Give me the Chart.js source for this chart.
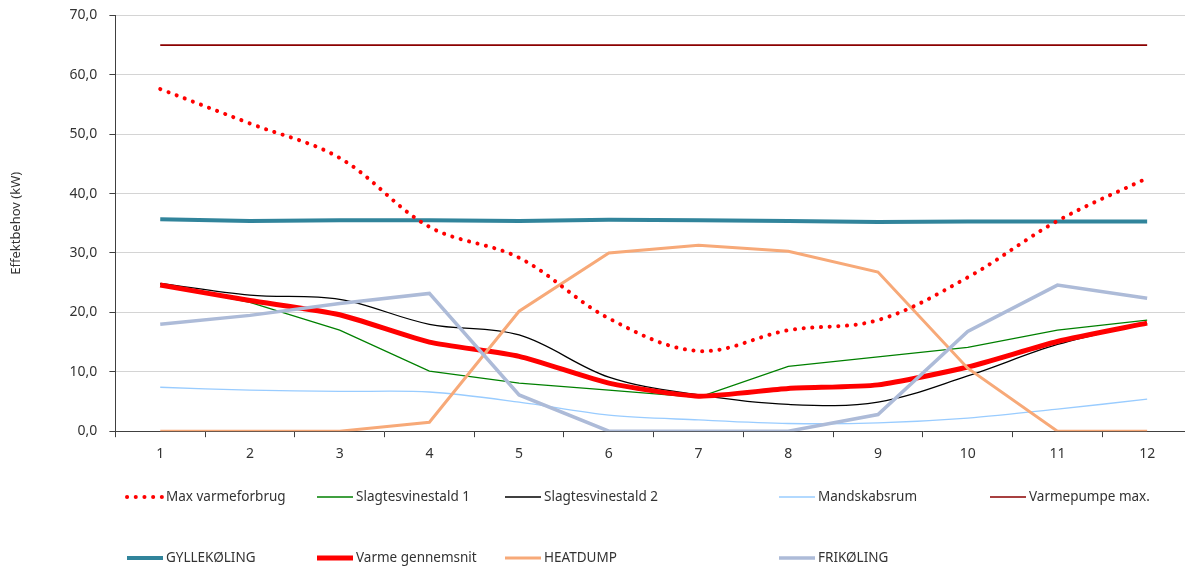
<!DOCTYPE html>
<html>
<head>
<meta charset="utf-8">
<script src="https://cdn.jsdelivr.net/npm/chart.js@4.4.1/dist/chart.umd.min.js"></script>
<style>
  html, body { margin: 0; padding: 0; background: #fff; overflow: hidden; }
  #wrap { width: 1192px; height: 575px; margin-top: -5px; }
</style>
</head>
<body>
<div id="wrap"><canvas id="chart"></canvas></div>
<script>
// Months / categories
const months = ['1', '2', '3', '4', '5', '6', '7', '8', '9', '10', '11', '12'];

// Series values (kW)
const maxVarmeforbrug   = [57.6, 51.8, 46.0, 34.4, 29.2, 19.0, 13.5, 17.0, 18.7, 25.9, 35.4, 42.6];
const slagtesvinestald1 = [24.7, 21.7, 17.0, 10.1, 8.1, 6.9, 5.7, 10.9, 12.5, 14.1, 17.0, 18.7];
const slagtesvinestald2 = [24.9, 22.9, 22.2, 18.0, 16.2, 9.1, 6.1, 4.5, 4.9, 9.3, 14.6, 18.2];
const mandskabsrum      = [7.4, 6.9, 6.7, 6.6, 4.9, 2.7, 1.9, 1.3, 1.4, 2.2, 3.7, 5.4];
const varmepumpeMax     = [65, 65, 65, 65, 65, 65, 65, 65, 65, 65, 65, 65];
const gyllekoling       = [35.7, 35.4, 35.5, 35.5, 35.4, 35.6, 35.5, 35.4, 35.2, 35.3, 35.3, 35.3];
const varmeGennemsnit   = [24.6, 22.0, 19.6, 15.0, 12.6, 8.1, 5.9, 7.2, 7.8, 10.8, 15.1, 18.2];
const heatdump          = [0, 0, 0, 1.5, 20.2, 30.0, 31.3, 30.3, 26.8, 10.6, 0, 0];
const frikoling         = [18.0, 19.5, 21.5, 23.2, 6.1, 0, 0, 0, 2.8, 16.8, 24.6, 22.4];

// Y axis ticks
const yMin = 0, yMax = 70, yStep = 10;

const FONT = '"Noto Sans", "Open Sans", sans-serif';
const TEXT = '#333333';

// legend slots (two rows, like the original); canvas sits 5px higher than the page
const legendCols = [125, 315, 503, 777, 988];
const legendRows = [502, 563];

function line(label, data, color, width, extra) {
    return Object.assign({
        label: label,
        data: data,
        borderColor: color,
        backgroundColor: color,
        borderWidth: width,
        pointRadius: 0,
        pointHoverRadius: 0,
        fill: false,
        tension: 0
    }, extra || {});
}

const datasets = [
    line('Max varmeforbrug', maxVarmeforbrug, '#ff0000', 4, { borderDash: [0.1, 8.6], borderCapStyle: 'round', tension: 0.35, order: 0 }),
    line('Slagtesvinestald 1', slagtesvinestald1, '#008000', 1.3, { order: 8 }),
    line('Slagtesvinestald 2', slagtesvinestald2, '#000000', 1.3, { tension: 0.35, order: 7 }),
    line('Mandskabsrum', mandskabsrum, '#99ccff', 1.3, { tension: 0.3, order: 6 }),
    line('Varmepumpe max.', varmepumpeMax, '#8b0000', 1.6, { order: 5 }),
    line('GYLLEKØLING', gyllekoling, '#31849b', 4, { order: 4 }),
    line('Varme gennemsnit', varmeGennemsnit, '#ff0000', 5, { tension: 0.2, order: 3 }),
    line('HEATDUMP', heatdump, '#f7a978', 3, { order: 2 }),
    line('FRIKØLING', frikoling, '#adbbd8', 3.5, { order: 1 })
];

// Draws the legend in fixed slots below the plot
const slotLegend = {
    id: 'slotLegend',
    afterDraw(chart) {
        const ctx = chart.ctx;
        ctx.save();
        ctx.font = '13.5px ' + FONT;
        ctx.textBaseline = 'middle';
        ctx.fillStyle = TEXT;
        chart.data.datasets.forEach((ds, i) => {
            const x = legendCols[i % 5];
            const y = legendRows[Math.floor(i / 5)];
            ctx.beginPath();
            ctx.strokeStyle = ds.borderColor;
            ctx.lineWidth = ds.borderWidth;
            ctx.lineCap = ds.borderCapStyle || 'butt';
            ctx.setLineDash(ds.borderDash || []);
            ctx.moveTo(x + 2, y);
            ctx.lineTo(x + 38, y);
            ctx.stroke();
            ctx.setLineDash([]);
            ctx.fillText(ds.label, x + 41, y);
        });
        ctx.restore();
    }
};

new Chart(document.getElementById('chart').getContext('2d'), {
    type: 'line',
    data: { labels: months, datasets: datasets },
    options: {
        responsive: true,
        maintainAspectRatio: false,
        animation: false,
        layout: { padding: { top: 0, bottom: 100, left: 8, right: 0 } },
        plugins: {
            legend: { display: false },
            tooltip: { enabled: false }
        },
        scales: {
            x: {
                offset: true,
                grid: {
                    display: true,
                    offset: true,
                    drawOnChartArea: false,
                    drawTicks: true,
                    tickLength: 6,
                    tickColor: '#404040'
                },
                border: { color: '#404040', width: 1 },
                ticks: { color: TEXT, font: { family: FONT, size: 14 }, padding: 8, maxRotation: 0 }
            },
            y: {
                min: yMin,
                max: yMax,
                grid: { color: '#d4d4d4', lineWidth: 1, tickLength: 6, tickColor: '#404040' },
                border: { color: '#404040', width: 1 },
                ticks: {
                    stepSize: yStep,
                    color: TEXT,
                    font: { family: FONT, size: 14 },
                    padding: 12,
                    callback: v => v.toFixed(1).replace('.', ',')
                },
                title: {
                    display: true,
                    text: 'Effektbehov (kW)',
                    color: TEXT,
                    font: { family: FONT, size: 13 },
                    padding: { top: 0, bottom: 34 }
                }
            }
        }
    },
    plugins: [slotLegend]
});
</script>
</body>
</html>
